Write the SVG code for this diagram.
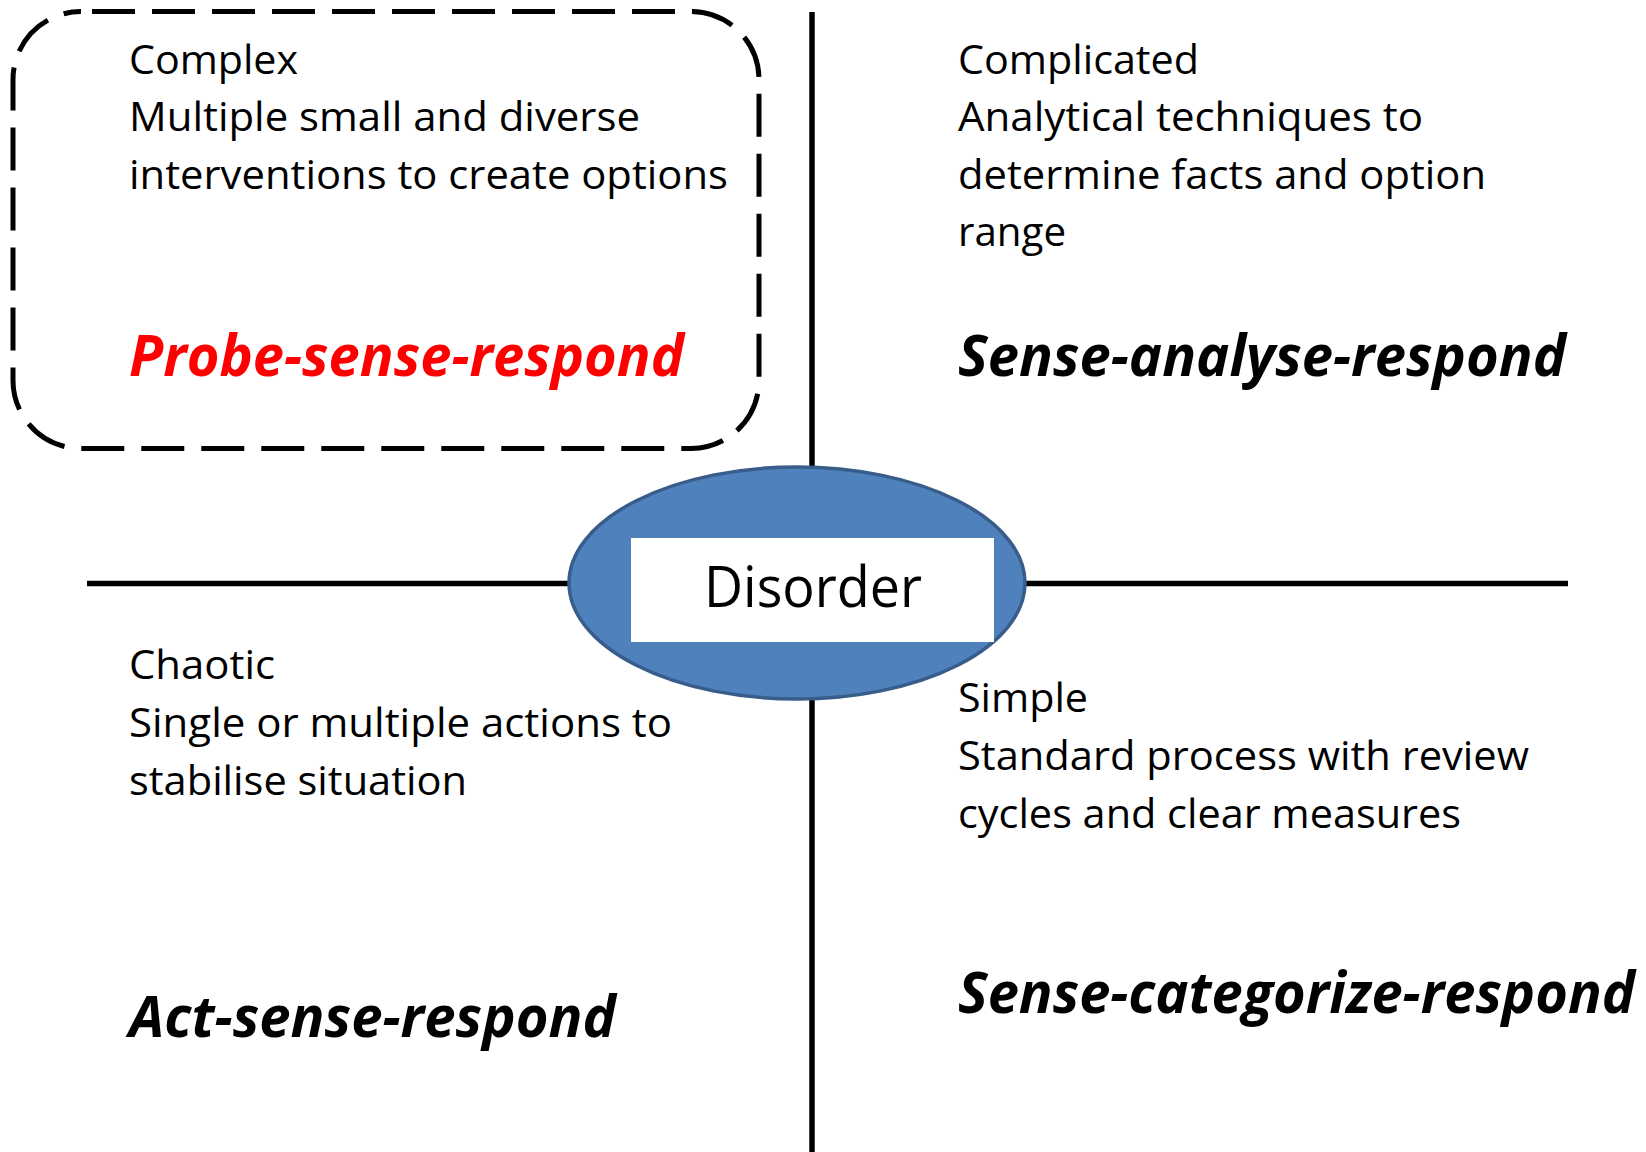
<svg xmlns="http://www.w3.org/2000/svg" width="1646" height="1152" viewBox="0 0 1646 1152">
<style>
.t{font-family:"Open Sans","Noto Sans","Liberation Sans",sans-serif;font-size:40px;fill:#000}
.h{font-family:"Open Sans","Noto Sans","Liberation Sans",sans-serif;font-size:57px;font-weight:bold;font-style:italic;fill:#000}
.ax{stroke:#000;stroke-width:5.5;fill:none}
</style>
<rect width="1646" height="1152" fill="#fff"/>
<g id="connectors">
<line class="ax" x1="812" y1="12" x2="812" y2="468"/>
<line class="ax" x1="812" y1="697" x2="812" y2="1152"/>
<line class="ax" x1="87" y1="583.5" x2="570" y2="583.5"/>
<line class="ax" x1="1024" y1="583.5" x2="1568" y2="583.5"/>
</g>
<g id="complex">
<rect x="13" y="11.5" width="746" height="437" rx="68" ry="68" fill="none" stroke="#000" stroke-width="5" stroke-dasharray="43 17" stroke-dashoffset="49"/>
<text class="t" x="129" y="74" textLength="169" lengthAdjust="spacingAndGlyphs">Complex</text>
<text class="t" x="129" y="131" textLength="511" lengthAdjust="spacingAndGlyphs">Multiple small and diverse</text>
<text class="t" x="129" y="189" textLength="599" lengthAdjust="spacingAndGlyphs">interventions to create options</text>
<text class="h" x="129" y="376" textLength="555" lengthAdjust="spacingAndGlyphs" style="fill:#ff0000">Probe-sense-respond</text>
</g>
<g id="complicated">
<text class="t" x="958" y="74" textLength="241" lengthAdjust="spacingAndGlyphs">Complicated</text>
<text class="t" x="958" y="131" textLength="465" lengthAdjust="spacingAndGlyphs">Analytical techniques to</text>
<text class="t" x="958" y="189" textLength="528" lengthAdjust="spacingAndGlyphs">determine facts and option</text>
<text class="t" x="958" y="246" textLength="108" lengthAdjust="spacingAndGlyphs">range</text>
<text class="h" x="958" y="376" textLength="608" lengthAdjust="spacingAndGlyphs">Sense-analyse-respond</text>
</g>
<g id="chaotic">
<text class="t" x="129" y="679" textLength="146" lengthAdjust="spacingAndGlyphs">Chaotic</text>
<text class="t" x="129" y="737" textLength="543" lengthAdjust="spacingAndGlyphs">Single or multiple actions to</text>
<text class="t" x="129" y="795" textLength="338" lengthAdjust="spacingAndGlyphs">stabilise situation</text>
<text class="h" x="129" y="1037" textLength="487" lengthAdjust="spacingAndGlyphs">Act-sense-respond</text>
</g>
<g id="simple">
<text class="t" x="958" y="712" textLength="130" lengthAdjust="spacingAndGlyphs">Simple</text>
<text class="t" x="958" y="770" textLength="571" lengthAdjust="spacingAndGlyphs">Standard process with review</text>
<text class="t" x="958" y="828" textLength="503" lengthAdjust="spacingAndGlyphs">cycles and clear measures</text>
<text class="h" x="958" y="1013" textLength="677" lengthAdjust="spacingAndGlyphs">Sense-categorize-respond</text>
</g>
<g id="disorder">
<ellipse cx="797" cy="583" rx="228" ry="116" fill="#4F81BD" stroke="#385D8A" stroke-width="3.5"/>
<rect x="631" y="538" width="363" height="104" fill="#fff"/>
<text class="t" x="704" y="607" textLength="218" lengthAdjust="spacingAndGlyphs" style="font-size:56px">Disorder</text>
</g>
</svg>
